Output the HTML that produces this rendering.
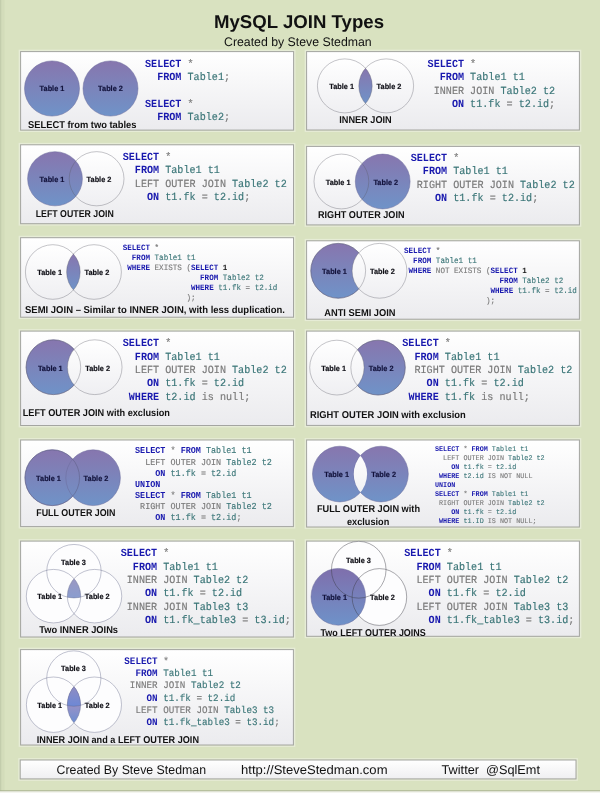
<!DOCTYPE html>
<html><head><meta charset="utf-8"><title>MySQL JOIN Types</title>
<style>
html,body{margin:0;padding:0;background:#fff;}
body{width:600px;height:800px;overflow:hidden;font-family:"Liberation Sans",sans-serif;}
svg{display:block;}
text{white-space:pre;text-rendering:geometricPrecision;}
</style></head><body>
<svg width="600" height="800" viewBox="0 0 600 800" style="will-change:transform">
<defs><linearGradient id="pg" x1="0" y1="0" x2="0" y2="1"><stop offset="0" stop-color="#ffffff"/><stop offset="1" stop-color="#ebebee"/></linearGradient><linearGradient id="pgf" x1="0" y1="0" x2="0" y2="1"><stop offset="0" stop-color="#ffffff"/><stop offset="1" stop-color="#efeff1"/></linearGradient><linearGradient id="f1" gradientUnits="userSpaceOnUse" x1="0" y1="60.90" x2="0" y2="116.10"><stop offset="0" stop-color="#8776ae"/><stop offset="1" stop-color="#6f93c8"/></linearGradient><linearGradient id="f2" gradientUnits="userSpaceOnUse" x1="0" y1="60.90" x2="0" y2="116.10"><stop offset="0" stop-color="#8776ae"/><stop offset="1" stop-color="#6f93c8"/></linearGradient><linearGradient id="w3" gradientUnits="userSpaceOnUse" x1="0" y1="58.90" x2="0" y2="112.90"><stop offset="0" stop-color="#ffffff"/><stop offset="1" stop-color="#efeff2"/></linearGradient><linearGradient id="w4" gradientUnits="userSpaceOnUse" x1="0" y1="58.90" x2="0" y2="112.90"><stop offset="0" stop-color="#ffffff"/><stop offset="1" stop-color="#efeff2"/></linearGradient><linearGradient id="f5" gradientUnits="userSpaceOnUse" x1="0" y1="68.21" x2="0" y2="103.59"><stop offset="0" stop-color="#8776ae"/><stop offset="1" stop-color="#6f93c8"/></linearGradient><clipPath id="c6"><ellipse cx="386.20" cy="85.90" rx="27.40" ry="27.00" /></clipPath><linearGradient id="w7" gradientUnits="userSpaceOnUse" x1="0" y1="151.65" x2="0" y2="205.85"><stop offset="0" stop-color="#ffffff"/><stop offset="1" stop-color="#efeff2"/></linearGradient><linearGradient id="f8" gradientUnits="userSpaceOnUse" x1="0" y1="151.65" x2="0" y2="205.85"><stop offset="0" stop-color="#8776ae"/><stop offset="1" stop-color="#6f93c8"/></linearGradient><linearGradient id="w9" gradientUnits="userSpaceOnUse" x1="0" y1="154.10" x2="0" y2="208.90"><stop offset="0" stop-color="#ffffff"/><stop offset="1" stop-color="#efeff2"/></linearGradient><linearGradient id="f10" gradientUnits="userSpaceOnUse" x1="0" y1="154.10" x2="0" y2="208.90"><stop offset="0" stop-color="#8776ae"/><stop offset="1" stop-color="#6f93c8"/></linearGradient><linearGradient id="w11" gradientUnits="userSpaceOnUse" x1="0" y1="244.70" x2="0" y2="299.30"><stop offset="0" stop-color="#ffffff"/><stop offset="1" stop-color="#efeff2"/></linearGradient><linearGradient id="w12" gradientUnits="userSpaceOnUse" x1="0" y1="244.70" x2="0" y2="299.30"><stop offset="0" stop-color="#ffffff"/><stop offset="1" stop-color="#efeff2"/></linearGradient><linearGradient id="f13" gradientUnits="userSpaceOnUse" x1="0" y1="254.00" x2="0" y2="290.00"><stop offset="0" stop-color="#8776ae"/><stop offset="1" stop-color="#6f93c8"/></linearGradient><clipPath id="c14"><ellipse cx="94.00" cy="272.00" rx="27.40" ry="27.30" /></clipPath><linearGradient id="f15" gradientUnits="userSpaceOnUse" x1="0" y1="243.40" x2="0" y2="298.20"><stop offset="0" stop-color="#8776ae"/><stop offset="1" stop-color="#6f93c8"/></linearGradient><linearGradient id="w16" gradientUnits="userSpaceOnUse" x1="0" y1="243.40" x2="0" y2="298.20"><stop offset="0" stop-color="#ffffff"/><stop offset="1" stop-color="#efeff2"/></linearGradient><linearGradient id="f17" gradientUnits="userSpaceOnUse" x1="0" y1="339.80" x2="0" y2="394.60"><stop offset="0" stop-color="#8776ae"/><stop offset="1" stop-color="#6f93c8"/></linearGradient><linearGradient id="w18" gradientUnits="userSpaceOnUse" x1="0" y1="339.80" x2="0" y2="394.60"><stop offset="0" stop-color="#ffffff"/><stop offset="1" stop-color="#efeff2"/></linearGradient><linearGradient id="f19" gradientUnits="userSpaceOnUse" x1="0" y1="340.20" x2="0" y2="395.00"><stop offset="0" stop-color="#8776ae"/><stop offset="1" stop-color="#6f93c8"/></linearGradient><linearGradient id="w20" gradientUnits="userSpaceOnUse" x1="0" y1="340.20" x2="0" y2="395.00"><stop offset="0" stop-color="#ffffff"/><stop offset="1" stop-color="#efeff2"/></linearGradient><linearGradient id="f21" gradientUnits="userSpaceOnUse" x1="0" y1="449.80" x2="0" y2="505.60"><stop offset="0" stop-color="#8776ae"/><stop offset="1" stop-color="#6f93c8"/></linearGradient><linearGradient id="f22" gradientUnits="userSpaceOnUse" x1="0" y1="449.80" x2="0" y2="505.60"><stop offset="0" stop-color="#8776ae"/><stop offset="1" stop-color="#6f93c8"/></linearGradient><linearGradient id="f23" gradientUnits="userSpaceOnUse" x1="0" y1="446.20" x2="0" y2="501.90"><stop offset="0" stop-color="#8776ae"/><stop offset="1" stop-color="#6f93c8"/></linearGradient><linearGradient id="f24" gradientUnits="userSpaceOnUse" x1="0" y1="446.20" x2="0" y2="501.90"><stop offset="0" stop-color="#8776ae"/><stop offset="1" stop-color="#6f93c8"/></linearGradient><linearGradient id="w25" gradientUnits="userSpaceOnUse" x1="0" y1="446.20" x2="0" y2="501.90"><stop offset="0" stop-color="#ffffff"/><stop offset="1" stop-color="#efeff2"/></linearGradient><clipPath id="c26"><ellipse cx="381.00" cy="474.05" rx="27.30" ry="27.85" /></clipPath><linearGradient id="f27" gradientUnits="userSpaceOnUse" x1="0" y1="578.60" x2="0" y2="597.95"><stop offset="0" stop-color="#9b98c2"/><stop offset="1" stop-color="#8a9dcf"/></linearGradient><clipPath id="c28"><ellipse cx="94.55" cy="596.15" rx="27.20" ry="26.75" /></clipPath><clipPath id="c29"><ellipse cx="73.95" cy="571.20" rx="27.20" ry="26.75" /></clipPath><linearGradient id="f30" gradientUnits="userSpaceOnUse" x1="0" y1="568.40" x2="0" y2="625.20"><stop offset="0" stop-color="#7f6fac"/><stop offset="1" stop-color="#6e92c9"/></linearGradient><linearGradient id="f31" gradientUnits="userSpaceOnUse" x1="0" y1="704.25" x2="0" y2="722.88"><stop offset="0" stop-color="#9a92c6"/><stop offset="1" stop-color="#6c8ed2"/></linearGradient><clipPath id="c32"><ellipse cx="94.40" cy="704.70" rx="27.10" ry="27.70" /></clipPath><linearGradient id="f33" gradientUnits="userSpaceOnUse" x1="0" y1="686.52" x2="0" y2="706.25"><stop offset="0" stop-color="#8f8cc2"/><stop offset="1" stop-color="#6d88d6"/></linearGradient><clipPath id="c34"><ellipse cx="94.40" cy="704.70" rx="27.10" ry="27.70" /></clipPath><clipPath id="c35"><ellipse cx="73.80" cy="678.55" rx="27.10" ry="27.70" /></clipPath></defs>
<rect x="0" y="0" width="600" height="800" fill="#ffffff"/>
<rect x="0" y="0" width="600" height="791" fill="#d9e2c0"/>
<rect x="0" y="0" width="1.6" height="791" fill="#c3cdac"/>
<rect x="1.6" y="0" width="3" height="791" fill="#d3dcba"/>
<rect x="0" y="790.3" width="600" height="1.2" fill="#a9b391"/>
<rect x="0" y="791.5" width="600" height="1" fill="#e9ecdf"/>
<text x="214" y="27.6" font-family="Liberation Sans, sans-serif" font-weight="bold" font-size="18.6" textLength="170" lengthAdjust="spacingAndGlyphs" fill="#111">MySQL JOIN Types</text>
<text x="224" y="46.3" font-family="Liberation Sans, sans-serif" font-size="12.4" textLength="147.7" lengthAdjust="spacingAndGlyphs" fill="#111">Created by Steve Stedman</text>
<rect x="19.40" y="50.40" width="275.40" height="80.90" fill="none" stroke="#e6ecd6" stroke-width="1.4"/>
<rect x="20.60" y="51.60" width="273.00" height="78.50" fill="url(#pg)" stroke="#a4a5a1" stroke-width="1"/>
<rect x="305.40" y="50.40" width="275.20" height="80.80" fill="none" stroke="#e6ecd6" stroke-width="1.4"/>
<rect x="306.60" y="51.60" width="272.80" height="78.40" fill="url(#pg)" stroke="#a4a5a1" stroke-width="1"/>
<rect x="19.40" y="143.60" width="275.30" height="81.30" fill="none" stroke="#e6ecd6" stroke-width="1.4"/>
<rect x="20.60" y="144.80" width="272.90" height="78.90" fill="url(#pg)" stroke="#a4a5a1" stroke-width="1"/>
<rect x="305.40" y="145.20" width="275.20" height="80.90" fill="none" stroke="#e6ecd6" stroke-width="1.4"/>
<rect x="306.60" y="146.40" width="272.80" height="78.50" fill="url(#pg)" stroke="#a4a5a1" stroke-width="1"/>
<rect x="19.40" y="236.50" width="275.30" height="81.90" fill="none" stroke="#e6ecd6" stroke-width="1.4"/>
<rect x="20.60" y="237.70" width="272.90" height="79.50" fill="url(#pg)" stroke="#a4a5a1" stroke-width="1"/>
<rect x="305.40" y="239.60" width="275.20" height="80.80" fill="none" stroke="#e6ecd6" stroke-width="1.4"/>
<rect x="306.60" y="240.80" width="272.80" height="78.40" fill="url(#pg)" stroke="#a4a5a1" stroke-width="1"/>
<rect x="19.40" y="329.90" width="275.30" height="96.80" fill="none" stroke="#e6ecd6" stroke-width="1.4"/>
<rect x="20.60" y="331.10" width="272.90" height="94.40" fill="url(#pg)" stroke="#a4a5a1" stroke-width="1"/>
<rect x="305.40" y="329.90" width="275.20" height="96.70" fill="none" stroke="#e6ecd6" stroke-width="1.4"/>
<rect x="306.60" y="331.10" width="272.80" height="94.30" fill="url(#pg)" stroke="#a4a5a1" stroke-width="1"/>
<rect x="19.40" y="438.80" width="275.20" height="89.00" fill="none" stroke="#e6ecd6" stroke-width="1.4"/>
<rect x="20.60" y="440.00" width="272.80" height="86.60" fill="url(#pg)" stroke="#a4a5a1" stroke-width="1"/>
<rect x="305.40" y="438.80" width="275.20" height="89.40" fill="none" stroke="#e6ecd6" stroke-width="1.4"/>
<rect x="306.60" y="440.00" width="272.80" height="87.00" fill="url(#pg)" stroke="#a4a5a1" stroke-width="1"/>
<rect x="19.40" y="539.90" width="275.20" height="98.30" fill="none" stroke="#e6ecd6" stroke-width="1.4"/>
<rect x="20.60" y="541.10" width="272.80" height="95.90" fill="url(#pg)" stroke="#a4a5a1" stroke-width="1"/>
<rect x="305.40" y="539.90" width="275.20" height="97.60" fill="none" stroke="#e6ecd6" stroke-width="1.4"/>
<rect x="306.60" y="541.10" width="272.80" height="95.20" fill="url(#pg)" stroke="#a4a5a1" stroke-width="1"/>
<rect x="19.40" y="648.40" width="275.20" height="97.80" fill="none" stroke="#e6ecd6" stroke-width="1.4"/>
<rect x="20.60" y="649.60" width="272.80" height="95.40" fill="url(#pg)" stroke="#a4a5a1" stroke-width="1"/>
<rect x="19.00" y="758.80" width="558.20" height="21.30" fill="none" stroke="#e6ecd6" stroke-width="1.4"/>
<rect x="20.20" y="760.00" width="555.80" height="18.90" fill="url(#pgf)" stroke="#a4a5a1" stroke-width="1"/>
<ellipse cx="52.00" cy="88.50" rx="27.50" ry="27.60" fill="url(#f1)" stroke="#6a6a9a" stroke-width="0.5"/>
<ellipse cx="110.50" cy="88.50" rx="27.50" ry="27.60" fill="url(#f2)" stroke="#6a6a9a" stroke-width="0.5"/>
<text x="52.00" y="91.30" text-anchor="middle" font-family="Liberation Sans, sans-serif" font-weight="bold" font-size="7.7" textLength="24.8" lengthAdjust="spacingAndGlyphs" fill="#13133c" stroke="#13133c" stroke-width="0.18">Table 1</text>
<text x="110.50" y="91.30" text-anchor="middle" font-family="Liberation Sans, sans-serif" font-weight="bold" font-size="7.7" textLength="24.8" lengthAdjust="spacingAndGlyphs" fill="#13133c" stroke="#13133c" stroke-width="0.18">Table 2</text>
<text x="28.00" y="127.50" font-family="Liberation Sans, sans-serif" font-weight="bold" font-size="9.9" textLength="108.50" lengthAdjust="spacingAndGlyphs" fill="#111">SELECT from two tables</text>
<g font-family="Liberation Mono, monospace" font-size="10.123" xml:space="preserve" transform="scale(1,1.08)">
<text x="145.00" y="62.23" fill="#1919ae" font-weight="bold" textLength="36.45" lengthAdjust="spacing">SELECT</text>
<text x="187.53" y="62.23" fill="#7a7a7a" stroke="#7a7a7a" stroke-width="0.162" textLength="6.08" lengthAdjust="spacing">*</text>
<text x="157.15" y="74.54" fill="#1919ae" font-weight="bold" textLength="24.30" lengthAdjust="spacing">FROM</text>
<text x="187.53" y="74.54" fill="#3b7678" stroke="#3b7678" stroke-width="0.162" textLength="36.45" lengthAdjust="spacing">Table1</text>
<text x="223.98" y="74.54" fill="#7a7a7a" stroke="#7a7a7a" stroke-width="0.162" textLength="6.08" lengthAdjust="spacing">;</text>
<text x="145.00" y="99.17" fill="#1919ae" font-weight="bold" textLength="36.45" lengthAdjust="spacing">SELECT</text>
<text x="187.53" y="99.17" fill="#7a7a7a" stroke="#7a7a7a" stroke-width="0.162" textLength="6.08" lengthAdjust="spacing">*</text>
<text x="157.15" y="111.49" fill="#1919ae" font-weight="bold" textLength="24.30" lengthAdjust="spacing">FROM</text>
<text x="187.53" y="111.49" fill="#3b7678" stroke="#3b7678" stroke-width="0.162" textLength="36.45" lengthAdjust="spacing">Table2</text>
<text x="223.98" y="111.49" fill="#7a7a7a" stroke="#7a7a7a" stroke-width="0.162" textLength="6.08" lengthAdjust="spacing">;</text>
</g>
<ellipse cx="344.80" cy="85.90" rx="27.40" ry="27.00" fill="url(#w3)"/>
<ellipse cx="386.20" cy="85.90" rx="27.40" ry="27.00" fill="url(#w4)"/>
<ellipse cx="344.80" cy="85.90" rx="27.40" ry="27.00" fill="url(#f5)" clip-path="url(#c6)"/>
<ellipse cx="344.80" cy="85.90" rx="27.40" ry="27.00" fill="none" stroke="rgba(88,88,100,0.5)" stroke-width="0.7" opacity="1"/>
<ellipse cx="386.20" cy="85.90" rx="27.40" ry="27.00" fill="none" stroke="rgba(88,88,100,0.5)" stroke-width="0.7" opacity="1"/>
<text x="341.60" y="88.50" text-anchor="middle" font-family="Liberation Sans, sans-serif" font-weight="bold" font-size="7.7" textLength="24.8" lengthAdjust="spacingAndGlyphs" fill="#111118" stroke="#111118" stroke-width="0.18">Table 1</text>
<text x="389.00" y="88.50" text-anchor="middle" font-family="Liberation Sans, sans-serif" font-weight="bold" font-size="7.7" textLength="24.8" lengthAdjust="spacingAndGlyphs" fill="#111118" stroke="#111118" stroke-width="0.18">Table 2</text>
<text x="339.25" y="123.25" font-family="Liberation Sans, sans-serif" font-weight="bold" font-size="9.9" textLength="52.50" lengthAdjust="spacingAndGlyphs" fill="#111">INNER JOIN</text>
<g font-family="Liberation Mono, monospace" font-size="10.123" xml:space="preserve" transform="scale(1,1.08)">
<text x="427.60" y="61.95" fill="#1919ae" font-weight="bold" textLength="36.45" lengthAdjust="spacing">SELECT</text>
<text x="470.12" y="61.95" fill="#7a7a7a" stroke="#7a7a7a" stroke-width="0.162" textLength="6.08" lengthAdjust="spacing">*</text>
<text x="439.75" y="74.27" fill="#1919ae" font-weight="bold" textLength="24.30" lengthAdjust="spacing">FROM</text>
<text x="470.12" y="74.27" fill="#3b7678" stroke="#3b7678" stroke-width="0.162" textLength="36.45" lengthAdjust="spacing">Table1</text>
<text x="512.65" y="74.27" fill="#3b7678" stroke="#3b7678" stroke-width="0.162" textLength="12.15" lengthAdjust="spacing">t1</text>
<text x="433.68" y="86.58" fill="#7a7a7a" stroke="#7a7a7a" stroke-width="0.162" textLength="30.38" lengthAdjust="spacing">INNER</text>
<text x="470.12" y="86.58" fill="#7a7a7a" stroke="#7a7a7a" stroke-width="0.162" textLength="24.30" lengthAdjust="spacing">JOIN</text>
<text x="500.50" y="86.58" fill="#3b7678" stroke="#3b7678" stroke-width="0.162" textLength="36.45" lengthAdjust="spacing">Table2</text>
<text x="543.02" y="86.58" fill="#3b7678" stroke="#3b7678" stroke-width="0.162" textLength="12.15" lengthAdjust="spacing">t2</text>
<text x="451.90" y="98.90" fill="#1919ae" font-weight="bold" textLength="12.15" lengthAdjust="spacing">ON</text>
<text x="470.12" y="98.90" fill="#3b7678" stroke="#3b7678" stroke-width="0.162" textLength="30.38" lengthAdjust="spacing">t1.fk</text>
<text x="506.58" y="98.90" fill="#7a7a7a" stroke="#7a7a7a" stroke-width="0.162" textLength="6.08" lengthAdjust="spacing">=</text>
<text x="518.73" y="98.90" fill="#3b7678" stroke="#3b7678" stroke-width="0.162" textLength="30.38" lengthAdjust="spacing">t2.id</text>
<text x="549.10" y="98.90" fill="#7a7a7a" stroke="#7a7a7a" stroke-width="0.162" textLength="6.08" lengthAdjust="spacing">;</text>
</g>
<ellipse cx="96.60" cy="178.75" rx="27.40" ry="27.10" fill="url(#w7)"/>
<ellipse cx="55.00" cy="178.75" rx="27.40" ry="27.10" fill="url(#f8)" stroke="#6a6a9a" stroke-width="0.5"/>
<ellipse cx="96.60" cy="178.75" rx="27.40" ry="27.10" fill="none" stroke="rgba(88,88,100,0.5)" stroke-width="0.7" opacity="1"/>
<text x="52.00" y="182.00" text-anchor="middle" font-family="Liberation Sans, sans-serif" font-weight="bold" font-size="7.7" textLength="24.8" lengthAdjust="spacingAndGlyphs" fill="#13133c" stroke="#13133c" stroke-width="0.18">Table 1</text>
<text x="99.00" y="182.00" text-anchor="middle" font-family="Liberation Sans, sans-serif" font-weight="bold" font-size="7.7" textLength="24.8" lengthAdjust="spacingAndGlyphs" fill="#111118" stroke="#111118" stroke-width="0.18">Table 2</text>
<text x="35.75" y="216.75" font-family="Liberation Sans, sans-serif" font-weight="bold" font-size="9.9" textLength="78.00" lengthAdjust="spacingAndGlyphs" fill="#111">LEFT OUTER JOIN</text>
<g font-family="Liberation Mono, monospace" font-size="10.123" xml:space="preserve" transform="scale(1,1.08)">
<text x="122.70" y="148.34" fill="#1919ae" font-weight="bold" textLength="36.45" lengthAdjust="spacing">SELECT</text>
<text x="165.22" y="148.34" fill="#7a7a7a" stroke="#7a7a7a" stroke-width="0.162" textLength="6.08" lengthAdjust="spacing">*</text>
<text x="134.85" y="160.56" fill="#1919ae" font-weight="bold" textLength="24.30" lengthAdjust="spacing">FROM</text>
<text x="165.22" y="160.56" fill="#3b7678" stroke="#3b7678" stroke-width="0.162" textLength="36.45" lengthAdjust="spacing">Table1</text>
<text x="207.75" y="160.56" fill="#3b7678" stroke="#3b7678" stroke-width="0.162" textLength="12.15" lengthAdjust="spacing">t1</text>
<text x="134.85" y="172.79" fill="#7a7a7a" stroke="#7a7a7a" stroke-width="0.162" textLength="24.30" lengthAdjust="spacing">LEFT</text>
<text x="165.22" y="172.79" fill="#7a7a7a" stroke="#7a7a7a" stroke-width="0.162" textLength="30.38" lengthAdjust="spacing">OUTER</text>
<text x="201.68" y="172.79" fill="#7a7a7a" stroke="#7a7a7a" stroke-width="0.162" textLength="24.30" lengthAdjust="spacing">JOIN</text>
<text x="232.05" y="172.79" fill="#3b7678" stroke="#3b7678" stroke-width="0.162" textLength="36.45" lengthAdjust="spacing">Table2</text>
<text x="274.57" y="172.79" fill="#3b7678" stroke="#3b7678" stroke-width="0.162" textLength="12.15" lengthAdjust="spacing">t2</text>
<text x="147.00" y="185.01" fill="#1919ae" font-weight="bold" textLength="12.15" lengthAdjust="spacing">ON</text>
<text x="165.22" y="185.01" fill="#3b7678" stroke="#3b7678" stroke-width="0.162" textLength="30.38" lengthAdjust="spacing">t1.fk</text>
<text x="201.68" y="185.01" fill="#7a7a7a" stroke="#7a7a7a" stroke-width="0.162" textLength="6.08" lengthAdjust="spacing">=</text>
<text x="213.82" y="185.01" fill="#3b7678" stroke="#3b7678" stroke-width="0.162" textLength="30.38" lengthAdjust="spacing">t2.id</text>
<text x="244.20" y="185.01" fill="#7a7a7a" stroke="#7a7a7a" stroke-width="0.162" textLength="6.08" lengthAdjust="spacing">;</text>
</g>
<ellipse cx="341.40" cy="181.50" rx="27.40" ry="27.40" fill="url(#w9)"/>
<ellipse cx="382.70" cy="181.50" rx="27.40" ry="27.40" fill="url(#f10)" stroke="#6a6a9a" stroke-width="0.5"/>
<ellipse cx="341.40" cy="181.50" rx="27.40" ry="27.40" fill="none" stroke="rgba(88,88,100,0.5)" stroke-width="0.7" opacity="1"/>
<text x="338.10" y="185.00" text-anchor="middle" font-family="Liberation Sans, sans-serif" font-weight="bold" font-size="7.7" textLength="24.8" lengthAdjust="spacingAndGlyphs" fill="#111118" stroke="#111118" stroke-width="0.18">Table 1</text>
<text x="385.80" y="185.00" text-anchor="middle" font-family="Liberation Sans, sans-serif" font-weight="bold" font-size="7.7" textLength="24.8" lengthAdjust="spacingAndGlyphs" fill="#13133c" stroke="#13133c" stroke-width="0.18">Table 2</text>
<text x="318.00" y="218.00" font-family="Liberation Sans, sans-serif" font-weight="bold" font-size="9.9" textLength="86.50" lengthAdjust="spacingAndGlyphs" fill="#111">RIGHT OUTER JOIN</text>
<g font-family="Liberation Mono, monospace" font-size="10.123" xml:space="preserve" transform="scale(1,1.08)">
<text x="410.70" y="149.17" fill="#1919ae" font-weight="bold" textLength="36.45" lengthAdjust="spacing">SELECT</text>
<text x="453.22" y="149.17" fill="#7a7a7a" stroke="#7a7a7a" stroke-width="0.162" textLength="6.08" lengthAdjust="spacing">*</text>
<text x="422.85" y="161.49" fill="#1919ae" font-weight="bold" textLength="24.30" lengthAdjust="spacing">FROM</text>
<text x="453.22" y="161.49" fill="#3b7678" stroke="#3b7678" stroke-width="0.162" textLength="36.45" lengthAdjust="spacing">Table1</text>
<text x="495.75" y="161.49" fill="#3b7678" stroke="#3b7678" stroke-width="0.162" textLength="12.15" lengthAdjust="spacing">t1</text>
<text x="416.77" y="173.80" fill="#7a7a7a" stroke="#7a7a7a" stroke-width="0.162" textLength="30.38" lengthAdjust="spacing">RIGHT</text>
<text x="453.22" y="173.80" fill="#7a7a7a" stroke="#7a7a7a" stroke-width="0.162" textLength="30.38" lengthAdjust="spacing">OUTER</text>
<text x="489.68" y="173.80" fill="#7a7a7a" stroke="#7a7a7a" stroke-width="0.162" textLength="24.30" lengthAdjust="spacing">JOIN</text>
<text x="520.05" y="173.80" fill="#3b7678" stroke="#3b7678" stroke-width="0.162" textLength="36.45" lengthAdjust="spacing">Table2</text>
<text x="562.58" y="173.80" fill="#3b7678" stroke="#3b7678" stroke-width="0.162" textLength="12.15" lengthAdjust="spacing">t2</text>
<text x="435.00" y="186.12" fill="#1919ae" font-weight="bold" textLength="12.15" lengthAdjust="spacing">ON</text>
<text x="453.22" y="186.12" fill="#3b7678" stroke="#3b7678" stroke-width="0.162" textLength="30.38" lengthAdjust="spacing">t1.fk</text>
<text x="489.68" y="186.12" fill="#7a7a7a" stroke="#7a7a7a" stroke-width="0.162" textLength="6.08" lengthAdjust="spacing">=</text>
<text x="501.82" y="186.12" fill="#3b7678" stroke="#3b7678" stroke-width="0.162" textLength="30.38" lengthAdjust="spacing">t2.id</text>
<text x="532.20" y="186.12" fill="#7a7a7a" stroke="#7a7a7a" stroke-width="0.162" textLength="6.08" lengthAdjust="spacing">;</text>
</g>
<ellipse cx="52.80" cy="272.00" rx="27.40" ry="27.30" fill="url(#w11)"/>
<ellipse cx="94.00" cy="272.00" rx="27.40" ry="27.30" fill="url(#w12)"/>
<ellipse cx="52.80" cy="272.00" rx="27.40" ry="27.30" fill="url(#f13)" clip-path="url(#c14)"/>
<ellipse cx="52.80" cy="272.00" rx="27.40" ry="27.30" fill="none" stroke="rgba(88,88,100,0.5)" stroke-width="0.7" opacity="1"/>
<ellipse cx="94.00" cy="272.00" rx="27.40" ry="27.30" fill="none" stroke="rgba(88,88,100,0.5)" stroke-width="0.7" opacity="1"/>
<text x="49.60" y="275.20" text-anchor="middle" font-family="Liberation Sans, sans-serif" font-weight="bold" font-size="7.7" textLength="24.8" lengthAdjust="spacingAndGlyphs" fill="#111118" stroke="#111118" stroke-width="0.18">Table 1</text>
<text x="96.90" y="275.20" text-anchor="middle" font-family="Liberation Sans, sans-serif" font-weight="bold" font-size="7.7" textLength="24.8" lengthAdjust="spacingAndGlyphs" fill="#111118" stroke="#111118" stroke-width="0.18">Table 2</text>
<text x="25.00" y="313.00" font-family="Liberation Sans, sans-serif" font-weight="bold" font-size="9.9" textLength="260.00" lengthAdjust="spacingAndGlyphs" fill="#111">SEMI JOIN – Similar to INNER JOIN, with less duplication.</text>
<g font-family="Liberation Mono, monospace" font-size="7.582" xml:space="preserve" transform="scale(1,1.08)">
<text x="122.70" y="231.48" fill="#1919ae" font-weight="bold" textLength="27.30" lengthAdjust="spacing">SELECT</text>
<text x="154.55" y="231.48" fill="#7a7a7a" stroke="#7a7a7a" stroke-width="0.121" textLength="4.55" lengthAdjust="spacing">*</text>
<text x="131.80" y="240.74" fill="#1919ae" font-weight="bold" textLength="18.20" lengthAdjust="spacing">FROM</text>
<text x="154.55" y="240.74" fill="#3b7678" stroke="#3b7678" stroke-width="0.121" textLength="27.30" lengthAdjust="spacing">Table1</text>
<text x="186.40" y="240.74" fill="#3b7678" stroke="#3b7678" stroke-width="0.121" textLength="9.10" lengthAdjust="spacing">t1</text>
<text x="127.25" y="250.00" fill="#1919ae" font-weight="bold" textLength="22.75" lengthAdjust="spacing">WHERE</text>
<text x="154.55" y="250.00" fill="#7a7a7a" stroke="#7a7a7a" stroke-width="0.121" textLength="27.30" lengthAdjust="spacing">EXISTS</text>
<text x="186.40" y="250.00" fill="#7a7a7a" stroke="#7a7a7a" stroke-width="0.121" textLength="4.55" lengthAdjust="spacing">(</text>
<text x="190.95" y="250.00" fill="#1919ae" font-weight="bold" textLength="27.30" lengthAdjust="spacing">SELECT</text>
<text x="222.80" y="250.00" fill="#111111" font-weight="bold" textLength="4.55" lengthAdjust="spacing">1</text>
<text x="200.05" y="259.26" fill="#1919ae" font-weight="bold" textLength="18.20" lengthAdjust="spacing">FROM</text>
<text x="222.80" y="259.26" fill="#3b7678" stroke="#3b7678" stroke-width="0.121" textLength="27.30" lengthAdjust="spacing">Table2</text>
<text x="254.65" y="259.26" fill="#3b7678" stroke="#3b7678" stroke-width="0.121" textLength="9.10" lengthAdjust="spacing">t2</text>
<text x="190.95" y="268.52" fill="#1919ae" font-weight="bold" textLength="22.75" lengthAdjust="spacing">WHERE</text>
<text x="218.25" y="268.52" fill="#3b7678" stroke="#3b7678" stroke-width="0.121" textLength="22.75" lengthAdjust="spacing">t1.fk</text>
<text x="245.55" y="268.52" fill="#7a7a7a" stroke="#7a7a7a" stroke-width="0.121" textLength="4.55" lengthAdjust="spacing">=</text>
<text x="254.65" y="268.52" fill="#3b7678" stroke="#3b7678" stroke-width="0.121" textLength="22.75" lengthAdjust="spacing">t2.id</text>
<text x="186.40" y="277.78" fill="#7a7a7a" stroke="#7a7a7a" stroke-width="0.121" textLength="9.10" lengthAdjust="spacing">);</text>
</g>
<ellipse cx="338.20" cy="270.80" rx="27.40" ry="27.40" fill="url(#f15)" stroke="#6a6a9a" stroke-width="0.5"/>
<ellipse cx="379.50" cy="270.80" rx="27.40" ry="27.40" fill="url(#w16)"/>
<ellipse cx="338.20" cy="270.80" rx="27.40" ry="27.40" fill="none" stroke="rgba(88,88,100,0.5)" stroke-width="0.7" opacity="1"/>
<ellipse cx="379.50" cy="270.80" rx="27.40" ry="27.40" fill="none" stroke="rgba(88,88,100,0.5)" stroke-width="0.7" opacity="1"/>
<text x="334.50" y="273.90" text-anchor="middle" font-family="Liberation Sans, sans-serif" font-weight="bold" font-size="7.7" textLength="24.8" lengthAdjust="spacingAndGlyphs" fill="#13133c" stroke="#13133c" stroke-width="0.18">Table 1</text>
<text x="382.40" y="273.90" text-anchor="middle" font-family="Liberation Sans, sans-serif" font-weight="bold" font-size="7.7" textLength="24.8" lengthAdjust="spacingAndGlyphs" fill="#111118" stroke="#111118" stroke-width="0.18">Table 2</text>
<text x="324.25" y="315.75" font-family="Liberation Sans, sans-serif" font-weight="bold" font-size="9.9" textLength="71.25" lengthAdjust="spacingAndGlyphs" fill="#111">ANTI SEMI JOIN</text>
<g font-family="Liberation Mono, monospace" font-size="7.582" xml:space="preserve" transform="scale(1,1.08)">
<text x="404.00" y="234.63" fill="#1919ae" font-weight="bold" textLength="27.30" lengthAdjust="spacing">SELECT</text>
<text x="435.85" y="234.63" fill="#7a7a7a" stroke="#7a7a7a" stroke-width="0.121" textLength="4.55" lengthAdjust="spacing">*</text>
<text x="413.10" y="243.89" fill="#1919ae" font-weight="bold" textLength="18.20" lengthAdjust="spacing">FROM</text>
<text x="435.85" y="243.89" fill="#3b7678" stroke="#3b7678" stroke-width="0.121" textLength="27.30" lengthAdjust="spacing">Table1</text>
<text x="467.70" y="243.89" fill="#3b7678" stroke="#3b7678" stroke-width="0.121" textLength="9.10" lengthAdjust="spacing">t1</text>
<text x="408.55" y="253.15" fill="#1919ae" font-weight="bold" textLength="22.75" lengthAdjust="spacing">WHERE</text>
<text x="435.85" y="253.15" fill="#7a7a7a" stroke="#7a7a7a" stroke-width="0.121" textLength="13.65" lengthAdjust="spacing">NOT</text>
<text x="454.05" y="253.15" fill="#7a7a7a" stroke="#7a7a7a" stroke-width="0.121" textLength="27.30" lengthAdjust="spacing">EXISTS</text>
<text x="485.90" y="253.15" fill="#7a7a7a" stroke="#7a7a7a" stroke-width="0.121" textLength="4.55" lengthAdjust="spacing">(</text>
<text x="490.45" y="253.15" fill="#1919ae" font-weight="bold" textLength="27.30" lengthAdjust="spacing">SELECT</text>
<text x="522.30" y="253.15" fill="#111111" font-weight="bold" textLength="4.55" lengthAdjust="spacing">1</text>
<text x="499.55" y="262.41" fill="#1919ae" font-weight="bold" textLength="18.20" lengthAdjust="spacing">FROM</text>
<text x="522.30" y="262.41" fill="#3b7678" stroke="#3b7678" stroke-width="0.121" textLength="27.30" lengthAdjust="spacing">Table2</text>
<text x="554.15" y="262.41" fill="#3b7678" stroke="#3b7678" stroke-width="0.121" textLength="9.10" lengthAdjust="spacing">t2</text>
<text x="490.45" y="271.67" fill="#1919ae" font-weight="bold" textLength="22.75" lengthAdjust="spacing">WHERE</text>
<text x="517.75" y="271.67" fill="#3b7678" stroke="#3b7678" stroke-width="0.121" textLength="22.75" lengthAdjust="spacing">t1.fk</text>
<text x="545.05" y="271.67" fill="#7a7a7a" stroke="#7a7a7a" stroke-width="0.121" textLength="4.55" lengthAdjust="spacing">=</text>
<text x="554.15" y="271.67" fill="#3b7678" stroke="#3b7678" stroke-width="0.121" textLength="22.75" lengthAdjust="spacing">t2.id</text>
<text x="485.90" y="280.93" fill="#7a7a7a" stroke="#7a7a7a" stroke-width="0.121" textLength="9.10" lengthAdjust="spacing">);</text>
</g>
<ellipse cx="53.40" cy="367.20" rx="27.30" ry="27.40" fill="url(#f17)" stroke="#6a6a9a" stroke-width="0.5"/>
<ellipse cx="94.75" cy="367.20" rx="27.30" ry="27.40" fill="url(#w18)"/>
<ellipse cx="53.40" cy="367.20" rx="27.30" ry="27.40" fill="none" stroke="rgba(88,88,100,0.5)" stroke-width="0.7" opacity="1"/>
<ellipse cx="94.75" cy="367.20" rx="27.30" ry="27.40" fill="none" stroke="rgba(88,88,100,0.5)" stroke-width="0.7" opacity="1"/>
<text x="50.30" y="370.60" text-anchor="middle" font-family="Liberation Sans, sans-serif" font-weight="bold" font-size="7.7" textLength="24.8" lengthAdjust="spacingAndGlyphs" fill="#13133c" stroke="#13133c" stroke-width="0.18">Table 1</text>
<text x="97.70" y="370.60" text-anchor="middle" font-family="Liberation Sans, sans-serif" font-weight="bold" font-size="7.7" textLength="24.8" lengthAdjust="spacingAndGlyphs" fill="#111118" stroke="#111118" stroke-width="0.18">Table 2</text>
<text x="22.70" y="416.40" font-family="Liberation Sans, sans-serif" font-weight="bold" font-size="9.9" textLength="147.30" lengthAdjust="spacingAndGlyphs" fill="#111">LEFT OUTER JOIN with exclusion</text>
<g font-family="Liberation Mono, monospace" font-size="10.123" xml:space="preserve" transform="scale(1,1.08)">
<text x="122.70" y="320.66" fill="#1919ae" font-weight="bold" textLength="36.45" lengthAdjust="spacing">SELECT</text>
<text x="165.22" y="320.66" fill="#7a7a7a" stroke="#7a7a7a" stroke-width="0.162" textLength="6.08" lengthAdjust="spacing">*</text>
<text x="134.85" y="333.00" fill="#1919ae" font-weight="bold" textLength="24.30" lengthAdjust="spacing">FROM</text>
<text x="165.22" y="333.00" fill="#3b7678" stroke="#3b7678" stroke-width="0.162" textLength="36.45" lengthAdjust="spacing">Table1</text>
<text x="207.75" y="333.00" fill="#3b7678" stroke="#3b7678" stroke-width="0.162" textLength="12.15" lengthAdjust="spacing">t1</text>
<text x="134.85" y="345.34" fill="#7a7a7a" stroke="#7a7a7a" stroke-width="0.162" textLength="24.30" lengthAdjust="spacing">LEFT</text>
<text x="165.22" y="345.34" fill="#7a7a7a" stroke="#7a7a7a" stroke-width="0.162" textLength="30.38" lengthAdjust="spacing">OUTER</text>
<text x="201.68" y="345.34" fill="#7a7a7a" stroke="#7a7a7a" stroke-width="0.162" textLength="24.30" lengthAdjust="spacing">JOIN</text>
<text x="232.05" y="345.34" fill="#3b7678" stroke="#3b7678" stroke-width="0.162" textLength="36.45" lengthAdjust="spacing">Table2</text>
<text x="274.57" y="345.34" fill="#3b7678" stroke="#3b7678" stroke-width="0.162" textLength="12.15" lengthAdjust="spacing">t2</text>
<text x="147.00" y="357.68" fill="#1919ae" font-weight="bold" textLength="12.15" lengthAdjust="spacing">ON</text>
<text x="165.22" y="357.68" fill="#3b7678" stroke="#3b7678" stroke-width="0.162" textLength="30.38" lengthAdjust="spacing">t1.fk</text>
<text x="201.68" y="357.68" fill="#7a7a7a" stroke="#7a7a7a" stroke-width="0.162" textLength="6.08" lengthAdjust="spacing">=</text>
<text x="213.82" y="357.68" fill="#3b7678" stroke="#3b7678" stroke-width="0.162" textLength="30.38" lengthAdjust="spacing">t2.id</text>
<text x="128.78" y="370.03" fill="#1919ae" font-weight="bold" textLength="30.38" lengthAdjust="spacing">WHERE</text>
<text x="165.22" y="370.03" fill="#3b7678" stroke="#3b7678" stroke-width="0.162" textLength="30.38" lengthAdjust="spacing">t2.id</text>
<text x="201.68" y="370.03" fill="#7a7a7a" stroke="#7a7a7a" stroke-width="0.162" textLength="12.15" lengthAdjust="spacing">is</text>
<text x="219.90" y="370.03" fill="#7a7a7a" stroke="#7a7a7a" stroke-width="0.162" textLength="30.38" lengthAdjust="spacing">null;</text>
</g>
<ellipse cx="378.05" cy="367.60" rx="27.20" ry="27.40" fill="url(#f19)" stroke="#6a6a9a" stroke-width="0.5"/>
<ellipse cx="336.90" cy="367.60" rx="27.20" ry="27.40" fill="url(#w20)"/>
<ellipse cx="378.05" cy="367.60" rx="27.20" ry="27.40" fill="none" stroke="rgba(88,88,100,0.5)" stroke-width="0.7" opacity="1"/>
<ellipse cx="336.90" cy="367.60" rx="27.20" ry="27.40" fill="none" stroke="rgba(88,88,100,0.5)" stroke-width="0.7" opacity="1"/>
<text x="333.70" y="370.60" text-anchor="middle" font-family="Liberation Sans, sans-serif" font-weight="bold" font-size="7.7" textLength="24.8" lengthAdjust="spacingAndGlyphs" fill="#111118" stroke="#111118" stroke-width="0.18">Table 1</text>
<text x="381.10" y="370.60" text-anchor="middle" font-family="Liberation Sans, sans-serif" font-weight="bold" font-size="7.7" textLength="24.8" lengthAdjust="spacingAndGlyphs" fill="#13133c" stroke="#13133c" stroke-width="0.18">Table 2</text>
<text x="310.00" y="417.90" font-family="Liberation Sans, sans-serif" font-weight="bold" font-size="9.9" textLength="155.70" lengthAdjust="spacingAndGlyphs" fill="#111">RIGHT OUTER JOIN with exclusion</text>
<g font-family="Liberation Mono, monospace" font-size="10.123" xml:space="preserve" transform="scale(1,1.08)">
<text x="402.30" y="320.47" fill="#1919ae" font-weight="bold" textLength="36.45" lengthAdjust="spacing">SELECT</text>
<text x="444.82" y="320.47" fill="#7a7a7a" stroke="#7a7a7a" stroke-width="0.162" textLength="6.08" lengthAdjust="spacing">*</text>
<text x="414.45" y="332.88" fill="#1919ae" font-weight="bold" textLength="24.30" lengthAdjust="spacing">FROM</text>
<text x="444.82" y="332.88" fill="#3b7678" stroke="#3b7678" stroke-width="0.162" textLength="36.45" lengthAdjust="spacing">Table1</text>
<text x="487.35" y="332.88" fill="#3b7678" stroke="#3b7678" stroke-width="0.162" textLength="12.15" lengthAdjust="spacing">t1</text>
<text x="414.45" y="345.29" fill="#7a7a7a" stroke="#7a7a7a" stroke-width="0.162" textLength="30.38" lengthAdjust="spacing">RIGHT</text>
<text x="450.90" y="345.29" fill="#7a7a7a" stroke="#7a7a7a" stroke-width="0.162" textLength="30.38" lengthAdjust="spacing">OUTER</text>
<text x="487.35" y="345.29" fill="#7a7a7a" stroke="#7a7a7a" stroke-width="0.162" textLength="24.30" lengthAdjust="spacing">JOIN</text>
<text x="517.73" y="345.29" fill="#3b7678" stroke="#3b7678" stroke-width="0.162" textLength="36.45" lengthAdjust="spacing">Table2</text>
<text x="560.25" y="345.29" fill="#3b7678" stroke="#3b7678" stroke-width="0.162" textLength="12.15" lengthAdjust="spacing">t2</text>
<text x="426.60" y="357.69" fill="#1919ae" font-weight="bold" textLength="12.15" lengthAdjust="spacing">ON</text>
<text x="444.82" y="357.69" fill="#3b7678" stroke="#3b7678" stroke-width="0.162" textLength="30.38" lengthAdjust="spacing">t1.fk</text>
<text x="481.28" y="357.69" fill="#7a7a7a" stroke="#7a7a7a" stroke-width="0.162" textLength="6.08" lengthAdjust="spacing">=</text>
<text x="493.43" y="357.69" fill="#3b7678" stroke="#3b7678" stroke-width="0.162" textLength="30.38" lengthAdjust="spacing">t2.id</text>
<text x="408.38" y="370.10" fill="#1919ae" font-weight="bold" textLength="30.38" lengthAdjust="spacing">WHERE</text>
<text x="444.82" y="370.10" fill="#3b7678" stroke="#3b7678" stroke-width="0.162" textLength="30.38" lengthAdjust="spacing">t1.fk</text>
<text x="481.28" y="370.10" fill="#7a7a7a" stroke="#7a7a7a" stroke-width="0.162" textLength="12.15" lengthAdjust="spacing">is</text>
<text x="499.50" y="370.10" fill="#7a7a7a" stroke="#7a7a7a" stroke-width="0.162" textLength="30.38" lengthAdjust="spacing">null;</text>
</g>
<ellipse cx="52.25" cy="477.70" rx="27.30" ry="27.90" fill="url(#f21)" stroke="#6a6a9a" stroke-width="0.5"/>
<ellipse cx="93.10" cy="477.70" rx="27.30" ry="27.90" fill="url(#f22)" stroke="#6a6a9a" stroke-width="0.5"/>
<ellipse cx="52.25" cy="477.70" rx="27.30" ry="27.90" fill="none" stroke="#5a5a80" stroke-width="0.5" opacity="1"/>
<text x="48.50" y="480.80" text-anchor="middle" font-family="Liberation Sans, sans-serif" font-weight="bold" font-size="7.7" textLength="24.8" lengthAdjust="spacingAndGlyphs" fill="#13133c" stroke="#13133c" stroke-width="0.18">Table 1</text>
<text x="96.00" y="480.80" text-anchor="middle" font-family="Liberation Sans, sans-serif" font-weight="bold" font-size="7.7" textLength="24.8" lengthAdjust="spacingAndGlyphs" fill="#13133c" stroke="#13133c" stroke-width="0.18">Table 2</text>
<text x="36.25" y="516.25" font-family="Liberation Sans, sans-serif" font-weight="bold" font-size="9.9" textLength="79.25" lengthAdjust="spacingAndGlyphs" fill="#111">FULL OUTER JOIN</text>
<g font-family="Liberation Mono, monospace" font-size="8.449" xml:space="preserve" transform="scale(1,1.08)">
<text x="135.00" y="419.83" fill="#1919ae" font-weight="bold" textLength="30.42" lengthAdjust="spacing">SELECT</text>
<text x="170.49" y="419.83" fill="#7a7a7a" stroke="#7a7a7a" stroke-width="0.135" textLength="5.07" lengthAdjust="spacing">*</text>
<text x="180.63" y="419.83" fill="#1919ae" font-weight="bold" textLength="20.28" lengthAdjust="spacing">FROM</text>
<text x="205.98" y="419.83" fill="#3b7678" stroke="#3b7678" stroke-width="0.135" textLength="30.42" lengthAdjust="spacing">Table1</text>
<text x="241.47" y="419.83" fill="#3b7678" stroke="#3b7678" stroke-width="0.135" textLength="10.14" lengthAdjust="spacing">t1</text>
<text x="145.14" y="430.10" fill="#7a7a7a" stroke="#7a7a7a" stroke-width="0.135" textLength="20.28" lengthAdjust="spacing">LEFT</text>
<text x="170.49" y="430.10" fill="#7a7a7a" stroke="#7a7a7a" stroke-width="0.135" textLength="25.35" lengthAdjust="spacing">OUTER</text>
<text x="200.91" y="430.10" fill="#7a7a7a" stroke="#7a7a7a" stroke-width="0.135" textLength="20.28" lengthAdjust="spacing">JOIN</text>
<text x="226.26" y="430.10" fill="#3b7678" stroke="#3b7678" stroke-width="0.135" textLength="30.42" lengthAdjust="spacing">Table2</text>
<text x="261.75" y="430.10" fill="#3b7678" stroke="#3b7678" stroke-width="0.135" textLength="10.14" lengthAdjust="spacing">t2</text>
<text x="155.28" y="440.38" fill="#1919ae" font-weight="bold" textLength="10.14" lengthAdjust="spacing">ON</text>
<text x="170.49" y="440.38" fill="#3b7678" stroke="#3b7678" stroke-width="0.135" textLength="25.35" lengthAdjust="spacing">t1.fk</text>
<text x="200.91" y="440.38" fill="#7a7a7a" stroke="#7a7a7a" stroke-width="0.135" textLength="5.07" lengthAdjust="spacing">=</text>
<text x="211.05" y="440.38" fill="#3b7678" stroke="#3b7678" stroke-width="0.135" textLength="25.35" lengthAdjust="spacing">t2.id</text>
<text x="135.00" y="450.66" fill="#1919ae" font-weight="bold" textLength="25.35" lengthAdjust="spacing">UNION</text>
<text x="135.00" y="460.94" fill="#1919ae" font-weight="bold" textLength="30.42" lengthAdjust="spacing">SELECT</text>
<text x="170.49" y="460.94" fill="#7a7a7a" stroke="#7a7a7a" stroke-width="0.135" textLength="5.07" lengthAdjust="spacing">*</text>
<text x="180.63" y="460.94" fill="#1919ae" font-weight="bold" textLength="20.28" lengthAdjust="spacing">FROM</text>
<text x="205.98" y="460.94" fill="#3b7678" stroke="#3b7678" stroke-width="0.135" textLength="30.42" lengthAdjust="spacing">Table1</text>
<text x="241.47" y="460.94" fill="#3b7678" stroke="#3b7678" stroke-width="0.135" textLength="10.14" lengthAdjust="spacing">t1</text>
<text x="140.07" y="471.21" fill="#7a7a7a" stroke="#7a7a7a" stroke-width="0.135" textLength="25.35" lengthAdjust="spacing">RIGHT</text>
<text x="170.49" y="471.21" fill="#7a7a7a" stroke="#7a7a7a" stroke-width="0.135" textLength="25.35" lengthAdjust="spacing">OUTER</text>
<text x="200.91" y="471.21" fill="#7a7a7a" stroke="#7a7a7a" stroke-width="0.135" textLength="20.28" lengthAdjust="spacing">JOIN</text>
<text x="226.26" y="471.21" fill="#3b7678" stroke="#3b7678" stroke-width="0.135" textLength="30.42" lengthAdjust="spacing">Table2</text>
<text x="261.75" y="471.21" fill="#3b7678" stroke="#3b7678" stroke-width="0.135" textLength="10.14" lengthAdjust="spacing">t2</text>
<text x="155.28" y="481.49" fill="#1919ae" font-weight="bold" textLength="10.14" lengthAdjust="spacing">ON</text>
<text x="170.49" y="481.49" fill="#3b7678" stroke="#3b7678" stroke-width="0.135" textLength="25.35" lengthAdjust="spacing">t1.fk</text>
<text x="200.91" y="481.49" fill="#7a7a7a" stroke="#7a7a7a" stroke-width="0.135" textLength="5.07" lengthAdjust="spacing">=</text>
<text x="211.05" y="481.49" fill="#3b7678" stroke="#3b7678" stroke-width="0.135" textLength="25.35" lengthAdjust="spacing">t2.id</text>
<text x="236.40" y="481.49" fill="#7a7a7a" stroke="#7a7a7a" stroke-width="0.135" textLength="5.07" lengthAdjust="spacing">;</text>
</g>
<ellipse cx="339.80" cy="474.05" rx="27.30" ry="27.85" fill="url(#f23)" stroke="#6a6a9a" stroke-width="0.5"/>
<ellipse cx="381.00" cy="474.05" rx="27.30" ry="27.85" fill="url(#f24)" stroke="#6a6a9a" stroke-width="0.5"/>
<ellipse cx="339.80" cy="474.05" rx="27.30" ry="27.85" fill="url(#w25)" clip-path="url(#c26)"/>
<text x="336.65" y="477.00" text-anchor="middle" font-family="Liberation Sans, sans-serif" font-weight="bold" font-size="7.7" textLength="24.8" lengthAdjust="spacingAndGlyphs" fill="#13133c" stroke="#13133c" stroke-width="0.18">Table 1</text>
<text x="383.65" y="477.00" text-anchor="middle" font-family="Liberation Sans, sans-serif" font-weight="bold" font-size="7.7" textLength="24.8" lengthAdjust="spacingAndGlyphs" fill="#13133c" stroke="#13133c" stroke-width="0.18">Table 2</text>
<text x="317.00" y="512.00" font-family="Liberation Sans, sans-serif" font-weight="bold" font-size="9.9" textLength="103.00" lengthAdjust="spacingAndGlyphs" fill="#111">FULL OUTER JOIN with</text>
<text x="347.00" y="524.50" font-family="Liberation Sans, sans-serif" font-weight="bold" font-size="9.9" textLength="42.25" lengthAdjust="spacingAndGlyphs" fill="#111">exclusion</text>
<g font-family="Liberation Mono, monospace" font-size="6.766" xml:space="preserve" transform="scale(1,1.08)">
<text x="435.00" y="417.97" fill="#1919ae" font-weight="bold" textLength="24.36" lengthAdjust="spacing">SELECT</text>
<text x="463.42" y="417.97" fill="#7a7a7a" stroke="#7a7a7a" stroke-width="0.108" textLength="4.06" lengthAdjust="spacing">*</text>
<text x="471.54" y="417.97" fill="#1919ae" font-weight="bold" textLength="16.24" lengthAdjust="spacing">FROM</text>
<text x="491.84" y="417.97" fill="#3b7678" stroke="#3b7678" stroke-width="0.108" textLength="24.36" lengthAdjust="spacing">Table1</text>
<text x="520.26" y="417.97" fill="#3b7678" stroke="#3b7678" stroke-width="0.108" textLength="8.12" lengthAdjust="spacing">t1</text>
<text x="443.12" y="426.23" fill="#7a7a7a" stroke="#7a7a7a" stroke-width="0.108" textLength="16.24" lengthAdjust="spacing">LEFT</text>
<text x="463.42" y="426.23" fill="#7a7a7a" stroke="#7a7a7a" stroke-width="0.108" textLength="20.30" lengthAdjust="spacing">OUTER</text>
<text x="487.78" y="426.23" fill="#7a7a7a" stroke="#7a7a7a" stroke-width="0.108" textLength="16.24" lengthAdjust="spacing">JOIN</text>
<text x="508.08" y="426.23" fill="#3b7678" stroke="#3b7678" stroke-width="0.108" textLength="24.36" lengthAdjust="spacing">Table2</text>
<text x="536.50" y="426.23" fill="#3b7678" stroke="#3b7678" stroke-width="0.108" textLength="8.12" lengthAdjust="spacing">t2</text>
<text x="451.24" y="434.49" fill="#1919ae" font-weight="bold" textLength="8.12" lengthAdjust="spacing">ON</text>
<text x="463.42" y="434.49" fill="#3b7678" stroke="#3b7678" stroke-width="0.108" textLength="20.30" lengthAdjust="spacing">t1.fk</text>
<text x="487.78" y="434.49" fill="#7a7a7a" stroke="#7a7a7a" stroke-width="0.108" textLength="4.06" lengthAdjust="spacing">=</text>
<text x="495.90" y="434.49" fill="#3b7678" stroke="#3b7678" stroke-width="0.108" textLength="20.30" lengthAdjust="spacing">t2.id</text>
<text x="439.06" y="442.75" fill="#1919ae" font-weight="bold" textLength="20.30" lengthAdjust="spacing">WHERE</text>
<text x="463.42" y="442.75" fill="#3b7678" stroke="#3b7678" stroke-width="0.108" textLength="20.30" lengthAdjust="spacing">t2.id</text>
<text x="487.78" y="442.75" fill="#7a7a7a" stroke="#7a7a7a" stroke-width="0.108" textLength="8.12" lengthAdjust="spacing">IS</text>
<text x="499.96" y="442.75" fill="#7a7a7a" stroke="#7a7a7a" stroke-width="0.108" textLength="12.18" lengthAdjust="spacing">NOT</text>
<text x="516.20" y="442.75" fill="#7a7a7a" stroke="#7a7a7a" stroke-width="0.108" textLength="16.24" lengthAdjust="spacing">NULL</text>
<text x="435.00" y="451.01" fill="#1919ae" font-weight="bold" textLength="20.30" lengthAdjust="spacing">UNION</text>
<text x="435.00" y="459.27" fill="#1919ae" font-weight="bold" textLength="24.36" lengthAdjust="spacing">SELECT</text>
<text x="463.42" y="459.27" fill="#7a7a7a" stroke="#7a7a7a" stroke-width="0.108" textLength="4.06" lengthAdjust="spacing">*</text>
<text x="471.54" y="459.27" fill="#1919ae" font-weight="bold" textLength="16.24" lengthAdjust="spacing">FROM</text>
<text x="491.84" y="459.27" fill="#3b7678" stroke="#3b7678" stroke-width="0.108" textLength="24.36" lengthAdjust="spacing">Table1</text>
<text x="520.26" y="459.27" fill="#3b7678" stroke="#3b7678" stroke-width="0.108" textLength="8.12" lengthAdjust="spacing">t1</text>
<text x="439.06" y="467.53" fill="#7a7a7a" stroke="#7a7a7a" stroke-width="0.108" textLength="20.30" lengthAdjust="spacing">RIGHT</text>
<text x="463.42" y="467.53" fill="#7a7a7a" stroke="#7a7a7a" stroke-width="0.108" textLength="20.30" lengthAdjust="spacing">OUTER</text>
<text x="487.78" y="467.53" fill="#7a7a7a" stroke="#7a7a7a" stroke-width="0.108" textLength="16.24" lengthAdjust="spacing">JOIN</text>
<text x="508.08" y="467.53" fill="#3b7678" stroke="#3b7678" stroke-width="0.108" textLength="24.36" lengthAdjust="spacing">Table2</text>
<text x="536.50" y="467.53" fill="#3b7678" stroke="#3b7678" stroke-width="0.108" textLength="8.12" lengthAdjust="spacing">t2</text>
<text x="451.24" y="475.79" fill="#1919ae" font-weight="bold" textLength="8.12" lengthAdjust="spacing">ON</text>
<text x="463.42" y="475.79" fill="#3b7678" stroke="#3b7678" stroke-width="0.108" textLength="20.30" lengthAdjust="spacing">t1.fk</text>
<text x="487.78" y="475.79" fill="#7a7a7a" stroke="#7a7a7a" stroke-width="0.108" textLength="4.06" lengthAdjust="spacing">=</text>
<text x="495.90" y="475.79" fill="#3b7678" stroke="#3b7678" stroke-width="0.108" textLength="20.30" lengthAdjust="spacing">t2.id</text>
<text x="439.06" y="484.05" fill="#1919ae" font-weight="bold" textLength="20.30" lengthAdjust="spacing">WHERE</text>
<text x="463.42" y="484.05" fill="#3b7678" stroke="#3b7678" stroke-width="0.108" textLength="20.30" lengthAdjust="spacing">t1.ID</text>
<text x="487.78" y="484.05" fill="#7a7a7a" stroke="#7a7a7a" stroke-width="0.108" textLength="8.12" lengthAdjust="spacing">IS</text>
<text x="499.96" y="484.05" fill="#7a7a7a" stroke="#7a7a7a" stroke-width="0.108" textLength="12.18" lengthAdjust="spacing">NOT</text>
<text x="516.20" y="484.05" fill="#7a7a7a" stroke="#7a7a7a" stroke-width="0.108" textLength="20.30" lengthAdjust="spacing">NULL;</text>
</g>
<ellipse cx="73.95" cy="571.20" rx="27.20" ry="26.75" fill="#fdfdfe"/>
<ellipse cx="53.50" cy="596.15" rx="27.20" ry="26.75" fill="#fdfdfe"/>
<ellipse cx="94.55" cy="596.15" rx="27.20" ry="26.75" fill="#fdfdfe"/>
<g clip-path="url(#c29)"><ellipse cx="53.50" cy="596.15" rx="27.20" ry="26.75" fill="url(#f27)" clip-path="url(#c28)"/></g>
<ellipse cx="73.95" cy="571.20" rx="27.20" ry="26.75" fill="none" stroke="rgba(92,98,132,0.55)" stroke-width="0.7" opacity="1"/>
<ellipse cx="53.50" cy="596.15" rx="27.20" ry="26.75" fill="none" stroke="rgba(92,98,132,0.55)" stroke-width="0.7" opacity="1"/>
<ellipse cx="94.55" cy="596.15" rx="27.20" ry="26.75" fill="none" stroke="rgba(92,98,132,0.55)" stroke-width="0.7" opacity="1"/>
<text x="73.50" y="564.70" text-anchor="middle" font-family="Liberation Sans, sans-serif" font-weight="bold" font-size="7.7" textLength="24.8" lengthAdjust="spacingAndGlyphs" fill="#111118" stroke="#111118" stroke-width="0.18">Table 3</text>
<text x="49.75" y="599.45" text-anchor="middle" font-family="Liberation Sans, sans-serif" font-weight="bold" font-size="7.7" textLength="24.8" lengthAdjust="spacingAndGlyphs" fill="#111118" stroke="#111118" stroke-width="0.18">Table 1</text>
<text x="97.25" y="599.45" text-anchor="middle" font-family="Liberation Sans, sans-serif" font-weight="bold" font-size="7.7" textLength="24.8" lengthAdjust="spacingAndGlyphs" fill="#111118" stroke="#111118" stroke-width="0.18">Table 2</text>
<text x="39.25" y="633.00" font-family="Liberation Sans, sans-serif" font-weight="bold" font-size="9.9" textLength="78.75" lengthAdjust="spacingAndGlyphs" fill="#111">Two INNER JOINs</text>
<g font-family="Liberation Mono, monospace" font-size="10.123" xml:space="preserve" transform="scale(1,1.08)">
<text x="120.70" y="515.10" fill="#1919ae" font-weight="bold" textLength="36.45" lengthAdjust="spacing">SELECT</text>
<text x="163.22" y="515.10" fill="#7a7a7a" stroke="#7a7a7a" stroke-width="0.162" textLength="6.08" lengthAdjust="spacing">*</text>
<text x="132.85" y="527.44" fill="#1919ae" font-weight="bold" textLength="24.30" lengthAdjust="spacing">FROM</text>
<text x="163.22" y="527.44" fill="#3b7678" stroke="#3b7678" stroke-width="0.162" textLength="36.45" lengthAdjust="spacing">Table1</text>
<text x="205.75" y="527.44" fill="#3b7678" stroke="#3b7678" stroke-width="0.162" textLength="12.15" lengthAdjust="spacing">t1</text>
<text x="126.78" y="539.79" fill="#7a7a7a" stroke="#7a7a7a" stroke-width="0.162" textLength="30.38" lengthAdjust="spacing">INNER</text>
<text x="163.22" y="539.79" fill="#7a7a7a" stroke="#7a7a7a" stroke-width="0.162" textLength="24.30" lengthAdjust="spacing">JOIN</text>
<text x="193.60" y="539.79" fill="#3b7678" stroke="#3b7678" stroke-width="0.162" textLength="36.45" lengthAdjust="spacing">Table2</text>
<text x="236.12" y="539.79" fill="#3b7678" stroke="#3b7678" stroke-width="0.162" textLength="12.15" lengthAdjust="spacing">t2</text>
<text x="145.00" y="552.13" fill="#1919ae" font-weight="bold" textLength="12.15" lengthAdjust="spacing">ON</text>
<text x="163.22" y="552.13" fill="#3b7678" stroke="#3b7678" stroke-width="0.162" textLength="30.38" lengthAdjust="spacing">t1.fk</text>
<text x="199.68" y="552.13" fill="#7a7a7a" stroke="#7a7a7a" stroke-width="0.162" textLength="6.08" lengthAdjust="spacing">=</text>
<text x="211.82" y="552.13" fill="#3b7678" stroke="#3b7678" stroke-width="0.162" textLength="30.38" lengthAdjust="spacing">t2.id</text>
<text x="126.78" y="564.47" fill="#7a7a7a" stroke="#7a7a7a" stroke-width="0.162" textLength="30.38" lengthAdjust="spacing">INNER</text>
<text x="163.22" y="564.47" fill="#7a7a7a" stroke="#7a7a7a" stroke-width="0.162" textLength="24.30" lengthAdjust="spacing">JOIN</text>
<text x="193.60" y="564.47" fill="#3b7678" stroke="#3b7678" stroke-width="0.162" textLength="36.45" lengthAdjust="spacing">Table3</text>
<text x="236.12" y="564.47" fill="#3b7678" stroke="#3b7678" stroke-width="0.162" textLength="12.15" lengthAdjust="spacing">t3</text>
<text x="145.00" y="576.81" fill="#1919ae" font-weight="bold" textLength="12.15" lengthAdjust="spacing">ON</text>
<text x="163.22" y="576.81" fill="#3b7678" stroke="#3b7678" stroke-width="0.162" textLength="72.90" lengthAdjust="spacing">t1.fk_table3</text>
<text x="242.20" y="576.81" fill="#7a7a7a" stroke="#7a7a7a" stroke-width="0.162" textLength="6.08" lengthAdjust="spacing">=</text>
<text x="254.35" y="576.81" fill="#3b7678" stroke="#3b7678" stroke-width="0.162" textLength="30.38" lengthAdjust="spacing">t3.id</text>
<text x="284.73" y="576.81" fill="#7a7a7a" stroke="#7a7a7a" stroke-width="0.162" textLength="6.08" lengthAdjust="spacing">;</text>
</g>
<ellipse cx="358.75" cy="569.75" rx="27.30" ry="28.40" fill="#fdfdfe"/>
<ellipse cx="379.40" cy="597.00" rx="27.30" ry="28.40" fill="#fdfdfe"/>
<ellipse cx="338.30" cy="596.80" rx="27.30" ry="28.40" fill="url(#f30)" stroke="#6a6a9a" stroke-width="0.5"/>
<ellipse cx="358.75" cy="569.75" rx="27.30" ry="28.40" fill="none" stroke="rgba(55,55,66,0.62)" stroke-width="0.7" opacity="1"/>
<ellipse cx="379.40" cy="597.00" rx="27.30" ry="28.40" fill="none" stroke="rgba(55,55,66,0.62)" stroke-width="0.7" opacity="1"/>
<text x="358.50" y="563.10" text-anchor="middle" font-family="Liberation Sans, sans-serif" font-weight="bold" font-size="7.7" textLength="24.8" lengthAdjust="spacingAndGlyphs" fill="#111118" stroke="#111118" stroke-width="0.18">Table 3</text>
<text x="334.60" y="600.00" text-anchor="middle" font-family="Liberation Sans, sans-serif" font-weight="bold" font-size="7.7" textLength="24.8" lengthAdjust="spacingAndGlyphs" fill="#13133c" stroke="#13133c" stroke-width="0.18">Table 1</text>
<text x="382.50" y="600.00" text-anchor="middle" font-family="Liberation Sans, sans-serif" font-weight="bold" font-size="7.7" textLength="24.8" lengthAdjust="spacingAndGlyphs" fill="#111118" stroke="#111118" stroke-width="0.18">Table 2</text>
<text x="320.50" y="635.50" font-family="Liberation Sans, sans-serif" font-weight="bold" font-size="9.9" textLength="105.25" lengthAdjust="spacingAndGlyphs" fill="#111">Two LEFT OUTER JOINS</text>
<g font-family="Liberation Mono, monospace" font-size="10.123" xml:space="preserve" transform="scale(1,1.08)">
<text x="404.30" y="515.10" fill="#1919ae" font-weight="bold" textLength="36.45" lengthAdjust="spacing">SELECT</text>
<text x="446.82" y="515.10" fill="#7a7a7a" stroke="#7a7a7a" stroke-width="0.162" textLength="6.08" lengthAdjust="spacing">*</text>
<text x="416.45" y="527.44" fill="#1919ae" font-weight="bold" textLength="24.30" lengthAdjust="spacing">FROM</text>
<text x="446.82" y="527.44" fill="#3b7678" stroke="#3b7678" stroke-width="0.162" textLength="36.45" lengthAdjust="spacing">Table1</text>
<text x="489.35" y="527.44" fill="#3b7678" stroke="#3b7678" stroke-width="0.162" textLength="12.15" lengthAdjust="spacing">t1</text>
<text x="416.45" y="539.79" fill="#7a7a7a" stroke="#7a7a7a" stroke-width="0.162" textLength="24.30" lengthAdjust="spacing">LEFT</text>
<text x="446.82" y="539.79" fill="#7a7a7a" stroke="#7a7a7a" stroke-width="0.162" textLength="30.38" lengthAdjust="spacing">OUTER</text>
<text x="483.28" y="539.79" fill="#7a7a7a" stroke="#7a7a7a" stroke-width="0.162" textLength="24.30" lengthAdjust="spacing">JOIN</text>
<text x="513.65" y="539.79" fill="#3b7678" stroke="#3b7678" stroke-width="0.162" textLength="36.45" lengthAdjust="spacing">Table2</text>
<text x="556.17" y="539.79" fill="#3b7678" stroke="#3b7678" stroke-width="0.162" textLength="12.15" lengthAdjust="spacing">t2</text>
<text x="428.60" y="552.13" fill="#1919ae" font-weight="bold" textLength="12.15" lengthAdjust="spacing">ON</text>
<text x="446.82" y="552.13" fill="#3b7678" stroke="#3b7678" stroke-width="0.162" textLength="30.38" lengthAdjust="spacing">t1.fk</text>
<text x="483.28" y="552.13" fill="#7a7a7a" stroke="#7a7a7a" stroke-width="0.162" textLength="6.08" lengthAdjust="spacing">=</text>
<text x="495.43" y="552.13" fill="#3b7678" stroke="#3b7678" stroke-width="0.162" textLength="30.38" lengthAdjust="spacing">t2.id</text>
<text x="416.45" y="564.47" fill="#7a7a7a" stroke="#7a7a7a" stroke-width="0.162" textLength="24.30" lengthAdjust="spacing">LEFT</text>
<text x="446.82" y="564.47" fill="#7a7a7a" stroke="#7a7a7a" stroke-width="0.162" textLength="30.38" lengthAdjust="spacing">OUTER</text>
<text x="483.28" y="564.47" fill="#7a7a7a" stroke="#7a7a7a" stroke-width="0.162" textLength="24.30" lengthAdjust="spacing">JOIN</text>
<text x="513.65" y="564.47" fill="#3b7678" stroke="#3b7678" stroke-width="0.162" textLength="36.45" lengthAdjust="spacing">Table3</text>
<text x="556.17" y="564.47" fill="#3b7678" stroke="#3b7678" stroke-width="0.162" textLength="12.15" lengthAdjust="spacing">t3</text>
<text x="428.60" y="576.81" fill="#1919ae" font-weight="bold" textLength="12.15" lengthAdjust="spacing">ON</text>
<text x="446.82" y="576.81" fill="#3b7678" stroke="#3b7678" stroke-width="0.162" textLength="72.90" lengthAdjust="spacing">t1.fk_table3</text>
<text x="525.80" y="576.81" fill="#7a7a7a" stroke="#7a7a7a" stroke-width="0.162" textLength="6.08" lengthAdjust="spacing">=</text>
<text x="537.95" y="576.81" fill="#3b7678" stroke="#3b7678" stroke-width="0.162" textLength="30.38" lengthAdjust="spacing">t3.id</text>
<text x="568.33" y="576.81" fill="#7a7a7a" stroke="#7a7a7a" stroke-width="0.162" textLength="6.08" lengthAdjust="spacing">;</text>
</g>
<ellipse cx="73.80" cy="678.55" rx="27.10" ry="27.70" fill="#fdfdfe"/>
<ellipse cx="53.50" cy="704.70" rx="27.10" ry="27.70" fill="#fdfdfe"/>
<ellipse cx="94.40" cy="704.70" rx="27.10" ry="27.70" fill="#fdfdfe"/>
<ellipse cx="53.50" cy="704.70" rx="27.10" ry="27.70" fill="url(#f31)" clip-path="url(#c32)"/>
<g clip-path="url(#c35)"><ellipse cx="53.50" cy="704.70" rx="27.10" ry="27.70" fill="url(#f33)" clip-path="url(#c34)"/></g>
<ellipse cx="73.80" cy="678.55" rx="27.10" ry="27.70" fill="none" stroke="rgba(92,98,132,0.55)" stroke-width="0.7" opacity="1"/>
<ellipse cx="53.50" cy="704.70" rx="27.10" ry="27.70" fill="none" stroke="rgba(92,98,132,0.55)" stroke-width="0.7" opacity="1"/>
<ellipse cx="94.40" cy="704.70" rx="27.10" ry="27.70" fill="none" stroke="rgba(92,98,132,0.55)" stroke-width="0.7" opacity="1"/>
<text x="73.50" y="671.45" text-anchor="middle" font-family="Liberation Sans, sans-serif" font-weight="bold" font-size="7.7" textLength="24.8" lengthAdjust="spacingAndGlyphs" fill="#111118" stroke="#111118" stroke-width="0.18">Table 3</text>
<text x="49.75" y="708.20" text-anchor="middle" font-family="Liberation Sans, sans-serif" font-weight="bold" font-size="7.7" textLength="24.8" lengthAdjust="spacingAndGlyphs" fill="#111118" stroke="#111118" stroke-width="0.18">Table 1</text>
<text x="97.25" y="708.20" text-anchor="middle" font-family="Liberation Sans, sans-serif" font-weight="bold" font-size="7.7" textLength="24.8" lengthAdjust="spacingAndGlyphs" fill="#111118" stroke="#111118" stroke-width="0.18">Table 2</text>
<text x="36.75" y="743.00" font-family="Liberation Sans, sans-serif" font-weight="bold" font-size="9.9" textLength="162.25" lengthAdjust="spacingAndGlyphs" fill="#111">INNER JOIN and a LEFT OUTER JOIN</text>
<g font-family="Liberation Mono, monospace" font-size="9.248" xml:space="preserve" transform="scale(1,1.08)">
<text x="124.30" y="614.81" fill="#1919ae" font-weight="bold" textLength="33.30" lengthAdjust="spacing">SELECT</text>
<text x="163.15" y="614.81" fill="#7a7a7a" stroke="#7a7a7a" stroke-width="0.148" textLength="5.55" lengthAdjust="spacing">*</text>
<text x="135.40" y="626.11" fill="#1919ae" font-weight="bold" textLength="22.20" lengthAdjust="spacing">FROM</text>
<text x="163.15" y="626.11" fill="#3b7678" stroke="#3b7678" stroke-width="0.148" textLength="33.30" lengthAdjust="spacing">Table1</text>
<text x="202.00" y="626.11" fill="#3b7678" stroke="#3b7678" stroke-width="0.148" textLength="11.10" lengthAdjust="spacing">t1</text>
<text x="129.85" y="637.40" fill="#7a7a7a" stroke="#7a7a7a" stroke-width="0.148" textLength="27.75" lengthAdjust="spacing">INNER</text>
<text x="163.15" y="637.40" fill="#7a7a7a" stroke="#7a7a7a" stroke-width="0.148" textLength="22.20" lengthAdjust="spacing">JOIN</text>
<text x="190.90" y="637.40" fill="#3b7678" stroke="#3b7678" stroke-width="0.148" textLength="33.30" lengthAdjust="spacing">Table2</text>
<text x="229.75" y="637.40" fill="#3b7678" stroke="#3b7678" stroke-width="0.148" textLength="11.10" lengthAdjust="spacing">t2</text>
<text x="146.50" y="648.70" fill="#1919ae" font-weight="bold" textLength="11.10" lengthAdjust="spacing">ON</text>
<text x="163.15" y="648.70" fill="#3b7678" stroke="#3b7678" stroke-width="0.148" textLength="27.75" lengthAdjust="spacing">t1.fk</text>
<text x="196.45" y="648.70" fill="#7a7a7a" stroke="#7a7a7a" stroke-width="0.148" textLength="5.55" lengthAdjust="spacing">=</text>
<text x="207.55" y="648.70" fill="#3b7678" stroke="#3b7678" stroke-width="0.148" textLength="27.75" lengthAdjust="spacing">t2.id</text>
<text x="135.40" y="660.00" fill="#7a7a7a" stroke="#7a7a7a" stroke-width="0.148" textLength="22.20" lengthAdjust="spacing">LEFT</text>
<text x="163.15" y="660.00" fill="#7a7a7a" stroke="#7a7a7a" stroke-width="0.148" textLength="27.75" lengthAdjust="spacing">OUTER</text>
<text x="196.45" y="660.00" fill="#7a7a7a" stroke="#7a7a7a" stroke-width="0.148" textLength="22.20" lengthAdjust="spacing">JOIN</text>
<text x="224.20" y="660.00" fill="#3b7678" stroke="#3b7678" stroke-width="0.148" textLength="33.30" lengthAdjust="spacing">Table3</text>
<text x="263.05" y="660.00" fill="#3b7678" stroke="#3b7678" stroke-width="0.148" textLength="11.10" lengthAdjust="spacing">t3</text>
<text x="146.50" y="671.29" fill="#1919ae" font-weight="bold" textLength="11.10" lengthAdjust="spacing">ON</text>
<text x="163.15" y="671.29" fill="#3b7678" stroke="#3b7678" stroke-width="0.148" textLength="66.60" lengthAdjust="spacing">t1.fk_table3</text>
<text x="235.30" y="671.29" fill="#7a7a7a" stroke="#7a7a7a" stroke-width="0.148" textLength="5.55" lengthAdjust="spacing">=</text>
<text x="246.40" y="671.29" fill="#3b7678" stroke="#3b7678" stroke-width="0.148" textLength="27.75" lengthAdjust="spacing">t3.id</text>
<text x="274.15" y="671.29" fill="#7a7a7a" stroke="#7a7a7a" stroke-width="0.148" textLength="5.55" lengthAdjust="spacing">;</text>
</g>
<text x="56.5" y="773.9" font-family="Liberation Sans, sans-serif" font-size="12.6" textLength="149.50" lengthAdjust="spacingAndGlyphs" fill="#111" xml:space="preserve">Created By Steve Stedman</text>
<text x="241" y="773.9" font-family="Liberation Sans, sans-serif" font-size="12.6" textLength="146.50" lengthAdjust="spacingAndGlyphs" fill="#111" xml:space="preserve">http://SteveStedman.com</text>
<text x="441.5" y="773.9" font-family="Liberation Sans, sans-serif" font-size="12.6" textLength="98.50" lengthAdjust="spacingAndGlyphs" fill="#111" xml:space="preserve">Twitter  @SqlEmt</text>
</svg>
</body></html>
